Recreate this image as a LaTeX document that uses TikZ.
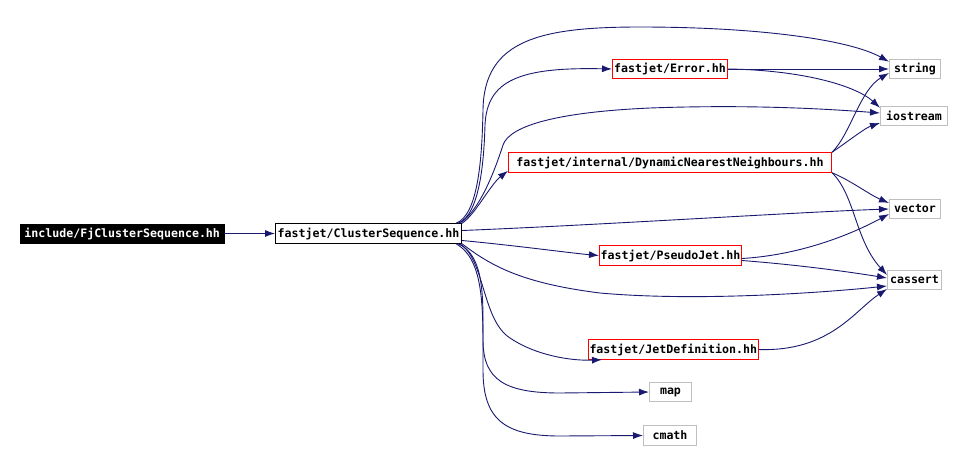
\documentclass[tikz,border=0pt]{standalone}
\usepackage{fontspec}
\setmonofont{DejaVu Sans Mono}
\usepackage{tikz}
\usetikzlibrary{arrows.meta,positioning}
\definecolor{depblue}{HTML}{191970}
\definecolor{extgrey}{HTML}{BFBFBF}
\tikzset{
  hdr/.style={draw, rectangle, minimum height=19.5pt, inner xsep=1pt, inner ysep=0pt,
    anchor=west, font=\fontsize{11.6}{12}\selectfont\ttfamily\bfseries, minimum width=#1},
  srcnode/.style={hdr=#1, fill=black, text=white},
  topnode/.style={hdr=#1, draw=black, line width=1pt},
  intnode/.style={hdr=#1, draw=red, line width=1pt},
  extnode/.style={hdr=#1, draw=extgrey, line width=1pt},
  dep/.style={draw=depblue, line width=0.9pt, -{Latex[length=10pt,width=7pt]}}
}
\begin{document}
\begin{tikzpicture}[x=1pt,y=-1pt]
\useasboundingbox (0,0) rectangle (964,450);
\node[srcnode=204] (fjcs) at (20,233.5) {include/FjClusterSequence.hh};
\node[topnode=186] (cs) at (275,233.5) {fastjet/ClusterSequence.hh};
\node[intnode=115] (err) at (612,69) {fastjet/Error.hh};
\node[intnode=323] (dnn) at (508,162.5) {fastjet/internal/DynamicNearestNeighbours.hh};
\node[intnode=142] (pj) at (599,255.5) {fastjet/PseudoJet.hh};
\node[intnode=164] (jd) at (588,349.5) {fastjet/JetDefinition.hh};
\node[extnode=51] (str) at (889,69) {string};
\node[extnode=67] (ios) at (880,116) {iostream};
\node[extnode=51] (vec) at (889,209) {vector};
\node[extnode=54] (cas) at (887,280) {cassert};
\node[extnode=42] (map) at (649,392) {map};
\node[extnode=53] (cmath) at (643,435.5) {cmath};

\draw[dep] (fjcs) -- (cs);
\draw[dep] ([xshift=-6pt]cs.north east) .. controls (478,215) and (482,160) .. (483,110)
  .. controls (484,40) and (540,27) .. (640,27) .. controls (760,27) and (850,40) .. ([yshift=-3pt]str.north west);
\draw[dep] ([xshift=-4pt]cs.north east) .. controls (480,215) and (484,160) .. (485,125)
  .. controls (487,80) and (520,67) .. (err.west);
\draw[dep] ([xshift=-2pt]cs.north east) .. controls (480,210) and (495,170) .. (503,145)
  .. controls (510,125) and (560,112) .. (650,108) .. controls (760,104) and (840,110) .. ([yshift=3pt]ios.west);
\draw[dep] (cs.north east) .. controls (475,215) and (490,185) .. ([yshift=2pt]dnn.south west);
\draw[dep] ([yshift=3pt]cs.east) .. controls (600,225) and (800,212) .. (vec.west);
\draw[dep] ([yshift=-7pt]cs.east) .. controls (520,246) and (570,253) .. (pj.west);
\draw[dep] (cs.south east) .. controls (490,265) and (520,283) .. (600,293)
  .. controls (700,302) and (830,292) .. ([yshift=-6pt]cas.west);
\draw[dep] ([xshift=-2pt]cs.south east) .. controls (485,260) and (482,320) .. (510,338)
  .. controls (535,355) and (570,361) .. ([xshift=14pt]jd.south west);
\draw[dep] ([xshift=-4pt]cs.south east) .. controls (485,255) and (483,300) .. (483,340)
  .. controls (483,380) and (505,393) .. (560,393) -- (map.west);
\draw[dep] ([xshift=-6pt]cs.south east) .. controls (485,260) and (483,310) .. (483,370)
  .. controls (483,420) and (505,436) .. (560,436) -- (cmath.west);

\draw[dep] (err.east) -- (str.west);
\draw[dep] (err.east) .. controls (800,70) and (855,85) .. ([yshift=-2pt]ios.north west);
\draw[dep] (dnn.north east) .. controls (850,135) and (860,90) .. ([yshift=-4pt]str.west);
\draw[dep] (dnn.north east) .. controls (850,140) and (865,128) .. ([yshift=-7pt]ios.west);
\draw[dep] (dnn.south east) .. controls (850,180) and (870,195) .. ([yshift=6pt]vec.west);
\draw[dep] (dnn.south east) .. controls (855,195) and (855,240) .. ([yshift=5pt]cas.west);
\draw[dep] ([yshift=-3pt]pj.east) .. controls (800,255) and (850,235) .. ([yshift=-5pt]vec.west);
\draw[dep] ([yshift=-5pt]pj.east) .. controls (800,265) and (850,272) .. ([yshift=2pt]cas.west);
\draw[dep] (jd.east) .. controls (830,352) and (855,310) .. ([yshift=-9pt]cas.west);
\end{tikzpicture}
\end{document}
